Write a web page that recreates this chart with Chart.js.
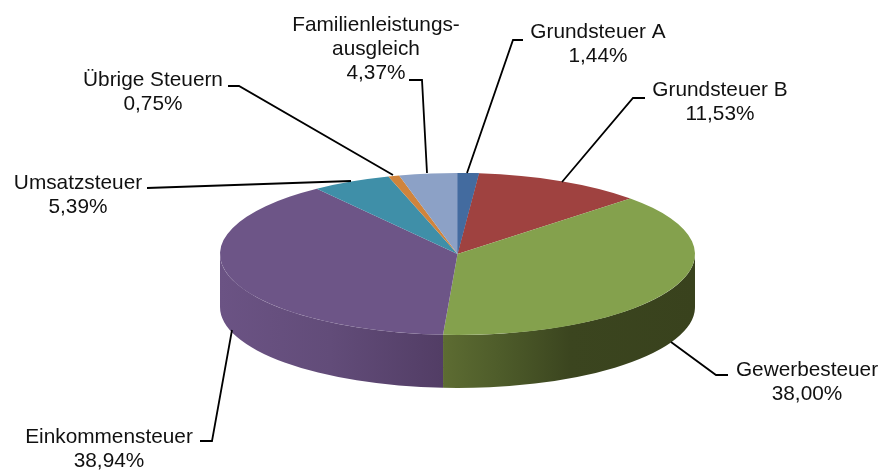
<!DOCTYPE html>
<html>
<head>
<meta charset="utf-8">
<script src="https://cdn.jsdelivr.net/npm/chart.js@4"></script>
<style>html,body{margin:0;padding:0;background:#fff}canvas{display:block}</style>
</head>
<body>
<canvas id="c" width="886" height="470"></canvas>
<script>
const categories = [["Grundsteuer A"],["Grundsteuer B"],["Gewerbesteuer"],["Einkommensteuer"],["Umsatzsteuer"],["Übrige Steuern"],["Familienleistungs-","ausgleich"]];
const shares = [1.44, 11.53, 38.00, 38.94, 5.39, 0.75, 4.37];
const topColors = ["#436B9F","#9F4240","#84A14D","#6D5587","#3F8FA8","#D0843C","#8CA1C6"];
const wallStops = {
  2: [[443,"#5D6C32"],[500,"#4E5C2A"],[570,"#3B451F"],[695,"#39421D"]],
  3: [[220,"#6B5384"],[330,"#624C79"],[443,"#523D65"]]
};
const SQUASH = 0.341, DEPTH = 53, FONT = '20.8px "Liberation Sans", Arial, sans-serif', LINE = 24.3;
const labelCenters = [[598,32],[720,90],[807,370],[109,437],[78,183],[153,80],[376,25]];
const leaders = [
  [[523,40],[513,40],[467,173]],
  [[645,98],[633,98],[562,182]],
  [[728,375],[716,375],[671,342]],
  [[200,441],[212,441],[232,330]],
  [[147,188],[351,181]],
  [[228,86],[239,86],[393,175]],
  [[409,80],[422,80],[427,173]]
];
const fmt = v => v.toFixed(2).replace(".", ",") + "%";
const total = shares.reduce((a, b) => a + b, 0);

const pie3d = {
  id: "pie3d",
  beforeDatasetDraw(chart) {
    const ctx = chart.ctx, arcs = chart.getDatasetMeta(0).data;
    arcs.forEach((arc, i) => {
      const p = arc.getProps(["x","y","startAngle","endAngle","outerRadius"], true);
      const a0 = Math.max(p.startAngle, 0), a1 = Math.min(p.endAngle, Math.PI);
      if (a1 <= a0 || !wallStops[i]) return;
      const ry = p.outerRadius * SQUASH;
      const stops = wallStops[i];
      const g = ctx.createLinearGradient(stops[0][0], 0, stops[stops.length-1][0], 0);
      stops.forEach(s => g.addColorStop((s[0]-stops[0][0])/(stops[stops.length-1][0]-stops[0][0]), s[1]));
      ctx.save();
      ctx.beginPath();
      ctx.ellipse(p.x, p.y, p.outerRadius, ry, 0, a0, a1);
      ctx.ellipse(p.x, p.y + DEPTH, p.outerRadius, ry, 0, a1, a0, true);
      ctx.closePath();
      ctx.fillStyle = g;
      ctx.fill();
      ctx.restore();
    });
    const c = arcs[0];
    ctx.save();
    ctx.translate(c.x, c.y);
    ctx.scale(1, SQUASH);
    ctx.translate(-c.x, -c.y);
  },
  afterDatasetDraw(chart) {
    // the printed shares add up to slightly over 100 %: the last slice runs past 12 o'clock,
    // so the first slice is painted again on top of that overlap
    chart.getDatasetMeta(0).data[0].draw(chart.ctx);
    chart.ctx.restore();
  },
  afterDraw(chart) {
    const ctx = chart.ctx;
    ctx.save();
    ctx.strokeStyle = "#000";
    ctx.lineWidth = 1.8;
    leaders.forEach(l => {
      ctx.beginPath();
      l.forEach((pt, k) => k ? ctx.lineTo(pt[0], pt[1]) : ctx.moveTo(pt[0], pt[1]));
      ctx.stroke();
    });
    ctx.fillStyle = "#111";
    ctx.font = FONT;
    ctx.textAlign = "center";
    ctx.textBaseline = "middle";
    categories.forEach((lines, i) => {
      const [x, y] = labelCenters[i];
      lines.concat(fmt(shares[i])).forEach((t, k) => ctx.fillText(t, x, y + k * LINE));
    });
    ctx.restore();
  }
};

new Chart(document.getElementById("c"), {
  type: "pie",
  data: {
    labels: categories.map(l => l.join(" ")),
    datasets: [{ data: shares, backgroundColor: topColors, borderWidth: 0, clip: false }]
  },
  options: {
    responsive: false,
    animation: false,
    radius: 237.5,
    circumference: 3.6 * total,
    layout: { padding: { left: 29, top: 38 } },
    plugins: { legend: { display: false }, tooltip: { enabled: false } }
  },
  plugins: [pie3d]
});
</script>
</body>
</html>
